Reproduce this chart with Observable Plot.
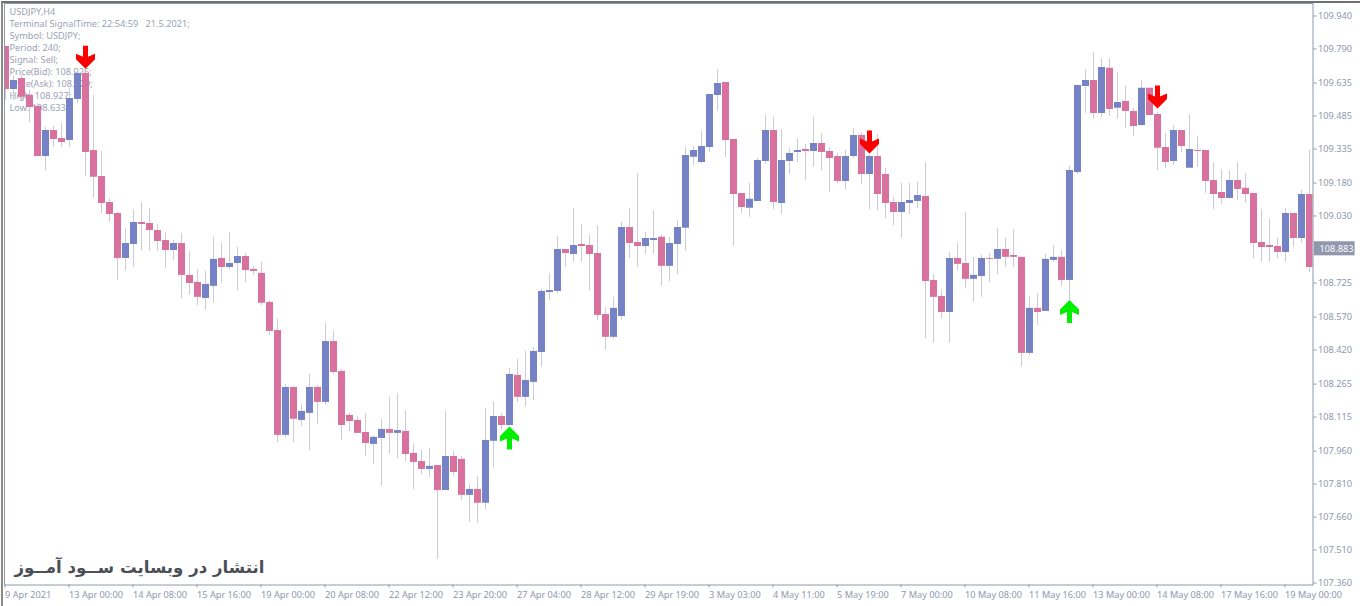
<!DOCTYPE html>
<html><head><meta charset="utf-8">
<script src="https://cdn.jsdelivr.net/npm/d3@7"></script>
<script src="https://cdn.jsdelivr.net/npm/@observablehq/plot@0.6"></script>
<style>html,body{margin:0;padding:0;background:#fff}svg{display:block}
#chart{position:relative;width:1360px;height:606px;overflow:hidden}
#chart::before{content:"";position:absolute;left:1px;top:1px;right:0;bottom:0;border-top:2px solid #707070;border-left:2px solid #8a8a8a;pointer-events:none}
</style>
</head><body><div id="chart"></div>
<script>
// Upper and lower edge of each candle body, then the wick extremes (USDJPY H4)
const bodyTop = [109.804,109.649,109.658,109.581,109.530,109.421,109.421,109.385,109.567,109.681,109.681,109.330,109.212,109.094,109.044,108.907,109.003,109.003,108.998,108.966,108.921,108.907,108.907,108.762,108.730,108.721,108.835,108.839,108.816,108.848,108.848,108.789,108.771,108.639,108.511,108.252,108.252,108.143,108.252,108.252,108.461,108.461,108.325,108.125,108.102,108.047,108.025,108.061,108.061,108.056,108.052,107.952,107.915,107.893,107.897,107.938,107.938,107.925,107.788,107.788,108.011,108.120,108.120,108.311,108.307,108.284,108.416,108.689,108.693,108.880,108.880,108.898,108.903,108.898,108.862,108.584,108.612,108.980,108.980,108.912,108.930,108.930,108.935,108.907,108.980,109.308,109.330,109.349,109.585,109.635,109.640,109.380,109.135,109.108,109.285,109.421,109.421,109.285,109.317,109.330,109.335,109.362,109.362,109.326,109.303,109.303,109.399,109.399,109.303,109.303,109.221,109.094,109.094,109.103,109.126,109.121,108.739,108.666,108.839,108.839,108.816,108.762,108.839,108.839,108.880,108.880,108.853,108.844,108.612,108.612,108.835,108.844,108.844,109.239,109.626,109.649,109.649,109.708,109.704,109.549,109.553,109.508,109.613,109.613,109.494,109.344,109.421,109.421,109.335,109.330,109.330,109.194,109.139,109.194,109.194,109.158,109.135,108.912,108.898,108.894,109.044,109.044,109.130,109.130];
const bodyBottom = [109.608,109.608,109.572,109.526,109.303,109.303,109.380,109.367,109.376,109.562,109.321,109.208,109.089,109.039,108.839,108.839,108.903,108.994,108.966,108.916,108.875,108.875,108.762,108.725,108.662,108.657,108.712,108.798,108.798,108.816,108.784,108.780,108.635,108.507,108.034,108.034,108.107,108.102,108.134,108.184,108.184,108.320,108.079,108.097,108.043,107.997,107.993,108.020,108.043,108.043,107.947,107.911,107.879,107.879,107.783,107.783,107.865,107.761,107.761,107.725,107.725,108.007,108.079,108.079,108.207,108.207,108.275,108.411,108.684,108.689,108.862,108.857,108.894,108.857,108.580,108.480,108.480,108.575,108.907,108.894,108.894,108.921,108.803,108.803,108.903,108.976,109.299,109.276,109.344,109.581,109.376,109.130,109.071,109.067,109.098,109.280,109.094,109.089,109.280,109.321,109.326,109.326,109.321,109.294,109.189,109.189,109.303,109.221,109.221,109.130,109.089,109.048,109.048,109.089,109.098,108.734,108.662,108.593,108.593,108.812,108.744,108.744,108.757,108.835,108.835,108.844,108.844,108.407,108.407,108.593,108.598,108.830,108.739,108.739,109.230,109.622,109.499,109.499,109.517,109.522,109.508,109.440,109.444,109.490,109.340,109.276,109.280,109.349,109.249,109.326,109.189,109.130,109.112,109.112,109.153,109.130,108.907,108.889,108.889,108.866,108.866,108.930,108.930,108.798];
const wickHigh = [109.804,109.667,109.672,109.603,109.544,109.435,109.440,109.453,109.613,109.704,109.690,109.581,109.326,109.108,109.048,108.975,109.062,109.094,109.067,108.994,108.957,108.921,108.953,108.871,108.789,108.780,108.935,108.907,108.957,108.889,108.862,108.803,108.821,108.648,108.562,108.266,108.257,108.175,108.311,108.261,108.543,108.507,108.334,108.134,108.120,108.134,108.034,108.107,108.207,108.225,108.147,107.997,107.965,107.975,107.897,108.143,107.961,107.938,107.811,107.847,108.156,108.188,108.134,108.338,108.379,108.416,108.434,108.698,108.771,108.939,108.880,109.067,108.994,108.944,108.989,108.616,108.662,109.003,109.067,109.226,108.957,109.057,108.944,108.935,109.012,109.344,109.349,109.417,109.585,109.699,109.640,109.380,109.135,109.180,109.294,109.490,109.481,109.426,109.340,109.385,109.358,109.481,109.408,109.344,109.317,109.330,109.431,109.408,109.308,109.403,109.248,109.117,109.180,109.180,109.185,109.276,108.766,108.698,108.866,108.907,109.048,108.844,108.853,108.862,108.975,108.930,108.971,108.844,108.666,108.680,108.857,108.898,108.875,109.258,109.626,109.699,109.776,109.749,109.749,109.685,109.622,109.522,109.649,109.613,109.503,109.408,109.444,109.421,109.494,109.394,109.330,109.276,109.244,109.239,109.276,109.226,109.135,109.062,109.017,108.930,109.067,109.044,109.148,109.330];
const wickLow = [109.558,109.558,109.558,109.458,109.303,109.239,109.344,109.344,109.344,109.544,109.212,109.112,109.044,109.003,108.739,108.780,108.798,108.875,108.871,108.871,108.793,108.830,108.657,108.671,108.625,108.602,108.635,108.725,108.789,108.693,108.730,108.762,108.625,108.489,108.002,108.025,108.002,108.075,107.965,108.084,108.170,108.311,108.011,108.052,108.043,107.938,107.902,107.802,107.947,107.929,107.915,107.788,107.856,107.843,107.469,107.783,107.847,107.738,107.638,107.633,107.697,107.884,108.056,108.079,108.184,108.161,108.193,108.343,108.648,108.680,108.798,108.821,108.821,108.693,108.557,108.420,108.471,108.557,108.839,108.798,108.857,108.857,108.712,108.734,108.766,108.871,109.262,109.271,109.321,109.508,109.299,108.894,109.044,109.026,109.098,109.267,109.062,109.039,109.221,109.276,109.194,109.253,109.239,109.139,109.180,109.153,109.294,109.176,109.062,109.057,109.021,108.989,108.930,109.039,109.067,108.475,108.452,108.566,108.452,108.784,108.703,108.639,108.662,108.730,108.766,108.798,108.798,108.343,108.398,108.534,108.598,108.821,108.712,108.648,109.221,109.499,109.472,109.481,109.485,109.472,109.431,109.394,109.440,109.490,109.239,109.249,109.262,109.321,109.249,109.253,109.135,109.062,109.085,109.112,109.103,109.089,108.839,108.821,108.821,108.839,108.821,108.889,108.907,108.775];
// Indexes of the rising (blue) candles; every other candle falls (pink)
const risingBars = [1,5,8,9,15,16,21,25,26,28,29,35,37,38,40,46,47,49,53,55,58,60,61,63,65,66,67,68,69,71,76,77,80,81,83,84,85,86,87,88,89,93,94,95,97,98,99,101,105,106,108,112,113,114,118,121,122,124,128,130,131,133,134,135,137,139,142,146,148,153,160,162];

const sellBars = [10,108,144];
const sellPrices = [109.755,109.369,109.574];
const buyBars = [63,133];
const buyPrices = [108.022,108.598];

const priceTicks = [109.94,109.79,109.635,109.485,109.335,109.18,109.03,108.725,108.57,108.42,108.265,108.115,107.96,107.81,107.66,107.51,107.36];
const currentPrice = 108.883;
const timeBars = [0,8,16,24,32,40,48,56,64,72,80,88,96,104,112,120,128,136,144,152,160];
const timeLabels = ["9 Apr 2021","13 Apr 00:00","14 Apr 08:00","15 Apr 16:00","19 Apr 00:00","20 Apr 08:00","22 Apr 12:00","23 Apr 20:00","27 Apr 04:00","28 Apr 12:00","29 Apr 19:00","3 May 03:00","4 May 11:00","5 May 19:00","7 May 00:00","10 May 08:00","11 May 16:00","13 May 00:00","14 May 08:00","17 May 16:00","19 May 00:00"];
const infoLines = ["USDJPY,H4","Terminal SignalTime: 22:54:59   21.5.2021;","Symbol: USDJPY;","Period: 240;","Signal: Sell;","Price(Bid): 108.926;","Price(Ask): 108.929;","High: 108.927;","Low: 108.633;"];
const watermark = "انتشار در وبسایت ســود آمــوز";

const BLUE = "#7583c6", PINK = "#d9719f", WICK = "#cdcdd1", AXIS = "#8f98ad", TXT = "#9aa2b6";
const FONT = "Noto Sans, Liberation Sans, sans-serif";
const rising = new Set(risingBars);
const candles = bodyTop.map((t, i) => ({
  i, top: t, bottom: bodyBottom[i], high: wickHigh[i], low: wickLow[i], up: rising.has(i)
}));

const polygon = pts => ({draw(c){ pts.forEach(([x, y], k) => k ? c.lineTo(x, y) : c.moveTo(x, y)); c.closePath(); }});
const down = [[-2.5,-11.5],[2.5,-11.5],[2.5,-0.5],[9.5,-3.5],[9.5,2],[0,11.5],[-9.5,2],[-9.5,-3.5],[-2.5,-0.5]];
const arrowDown = polygon(down), arrowUp = polygon(down.map(([x, y]) => [x, -y]));

const plot = Plot.plot({
  width: 1360, height: 606,
  marginLeft: 4, marginRight: 47.5, marginTop: 3, marginBottom: 21.5,
  style: {background: "#fff", fontFamily: FONT, fontSize: "9.2px", overflow: "visible"},
  x: {type: "linear", domain: [0, 163], range: [5, 1309]},
  y: {type: "linear", domain: [107.36, 109.94], range: [583, 16]},
  marks: [
    Plot.text([infoLines.join("\n")], {frameAnchor: "top-left", textAnchor: "start", lineAnchor: "top", dx: 5, dy: 3, lineHeight: 1.31, fill: TXT, fontSize: 9.2}),
    Plot.ruleX(candles, {x: "i", y1: "low", y2: "high", stroke: WICK, strokeWidth: 1, clip: true}),
    Plot.ruleX(candles, {x: "i", y1: "bottom", y2: "top", stroke: d => d.up ? BLUE : PINK, strokeWidth: 7, clip: true}),
    Plot.dot(sellBars.map((b, k) => ({b, p: sellPrices[k]})), {x: "b", y: "p", symbol: arrowDown, fill: "#fa0000", stroke: "none", r: 10}),
    Plot.dot(buyBars.map((b, k) => ({b, p: buyPrices[k]})), {x: "b", y: "p", symbol: arrowUp, fill: "#00f000", stroke: "none", r: 10}),
    Plot.text([watermark], {frameAnchor: "bottom-left", textAnchor: "start", lineAnchor: "bottom", dx: 10, dy: -12, fill: "#4b5058", fontSize: 16.6, fontWeight: "bold", fontFamily: "DejaVu Sans"}),
    Plot.frame({stroke: AXIS, strokeWidth: 1}),
    Plot.axisY({anchor: "right", ticks: priceTicks, tickSize: 3, tickPadding: 2, dy: -0.5, tickFormat: d => d.toFixed(3), color: AXIS, stroke: AXIS, fontSize: 9.2, textAnchor: "start", label: null}),
    Plot.axisX({anchor: "bottom", ticks: timeBars, tickSize: 3, tickPadding: 3.5, dx: -0.5, tickFormat: d => timeLabels[timeBars.indexOf(d)], textAnchor: "start", color: AXIS, stroke: AXIS, fontSize: 9.2, label: null}),
    Plot.rect([currentPrice], {x1: 163.6, x2: 168.7, y1: d => d - 0.032, y2: d => d + 0.032, fill: AXIS, clip: false}),
    Plot.text([currentPrice], {x: 164, y: d => d, text: d => d.toFixed(3), textAnchor: "start", dx: 2, fill: "#fff", fontSize: 9.2})
  ]
});
document.getElementById("chart").append(plot);
</script></body></html>
